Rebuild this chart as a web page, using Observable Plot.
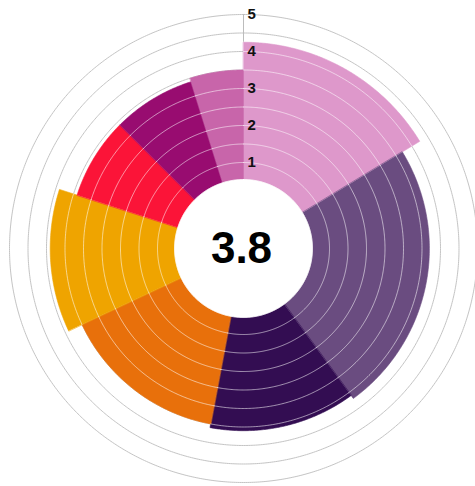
<!DOCTYPE html>
<html><head><meta charset="utf-8">
<script src="https://cdn.jsdelivr.net/npm/d3@7"></script>
<script src="https://cdn.jsdelivr.net/npm/@observablehq/plot@0.6"></script>
<style>html,body{margin:0;padding:0;background:#fff;} svg{display:block}</style>
</head><body><div id="chart"></div>
<script>
// ---- data ----
const segments = ["A", "B", "C", "D", "E", "F", "G", "H"];
const values = [4.25, 3.7, 3.6, 3.5, 3.9, 3.4, 3.4, 3.5];
const widths = [58.7, 85.1, 46.8, 54.2, 43.0, 27.2, 27.6, 17.4]; // angular share (degrees)
const colors = ["#de98cb", "#6a4c80", "#330d52", "#e8700b", "#efa400", "#fb1438", "#980c70", "#c865aa"];
const tickValues = [1, 2, 3, 4, 5];
const gridLevels = [0.5, 1, 1.5, 2, 2.5, 3, 3.5, 4, 4.5, 5];
const average = "3.8";

// ---- geometry helpers (data units) ----
const PX = 37;              // pixels per value unit
const base = 49 / PX;       // radius where value 0 sits
const holeR = base + 0.54;  // white centre disc
const rad = v => base + v;
const pt = (r, deg) => ({x: r * Math.sin(deg * Math.PI / 180), y: r * Math.cos(deg * Math.PI / 180)});
const starts = d3.cumsum([0, ...widths.slice(0, -1)]);

function arc(r, a0, a1) {
  const n = Math.max(2, Math.ceil(Math.abs(a1 - a0) / 0.5));
  return d3.range(n + 1).map(k => pt(r, a0 + (a1 - a0) * k / n));
}

const sectorMarks = segments.map((s, i) => {
  const a0 = starts[i], a1 = a0 + widths[i];
  const pts = [...arc(holeR - 0.05, a0, a1), ...arc(rad(values[i]), a1, a0)];
  return Plot.line(pts, {x: "x", y: "y", fill: colors[i], stroke: colors[i], strokeWidth: 0.6, curve: "linear-closed"});
});

// light rings drawn over each bar, only up to the bar's value
const innerRings = segments.flatMap((s, i) => {
  const a0 = starts[i], a1 = a0 + widths[i];
  return gridLevels.filter(l => l < values[i] - 0.04)
    .flatMap(l => arc(rad(l), a0, a1).map(p => ({...p, key: s + l})));
});

const ringPts = gridLevels.flatMap(l => arc(rad(l), 0, 360).map(p => ({...p, level: l})));
const holePts = arc(holeR, 0, 360);
const spokes = starts.map(a => {
  const p1 = pt(holeR, a), p2 = pt(rad(5), a);
  return {x1: p1.x, y1: p1.y, x2: p2.x, y2: p2.y};
});

const W = 475, H = 486, cx = 243, cy = 248;

const chart = Plot.plot({
  width: W, height: H,
  marginTop: 0, marginRight: 0, marginBottom: 0, marginLeft: 0,
  x: {domain: [-cx / PX, (W - cx) / PX], axis: null},
  y: {domain: [-(H - cy) / PX, cy / PX], axis: null},
  style: {background: "#fff", fontFamily: "'Liberation Sans', Arial, Helvetica, sans-serif"},
  marks: [
    Plot.line(ringPts, {x: "x", y: "y", z: "level", stroke: "#c4c4c4", strokeWidth: 1}),
    Plot.link(spokes, {x1: "x1", y1: "y1", x2: "x2", y2: "y2", stroke: "#bcbcbc", strokeWidth: 1}),
    ...sectorMarks,
    Plot.line(innerRings, {x: "x", y: "y", z: "key", stroke: "#fff", strokeOpacity: 0.55, strokeWidth: 1}),
    Plot.link(spokes, {x1: "x1", y1: "y1", x2: "x2", y2: "y2", stroke: "#fff", strokeOpacity: 0.45, strokeWidth: 1}),
    Plot.line(holePts, {x: "x", y: "y", fill: "#fff", stroke: "#fff", strokeWidth: 1, curve: "linear-closed"}),
    Plot.ruleX([0], {y1: rad(values[0]), y2: rad(5), stroke: "#bcbcbc", strokeWidth: 1}),
    Plot.text(tickValues, {x: 0, y: d => rad(d), text: d => String(d), textAnchor: "start", dx: 4,
      fontSize: 15, fontWeight: "bold", fill: "#111"}),
    Plot.text([average], {x: 0, y: 0, text: d => d, fontSize: 44, fontWeight: "bold", fill: "#000", dx: -2})
  ]
});
document.getElementById("chart").append(chart);
</script>
</body></html>
